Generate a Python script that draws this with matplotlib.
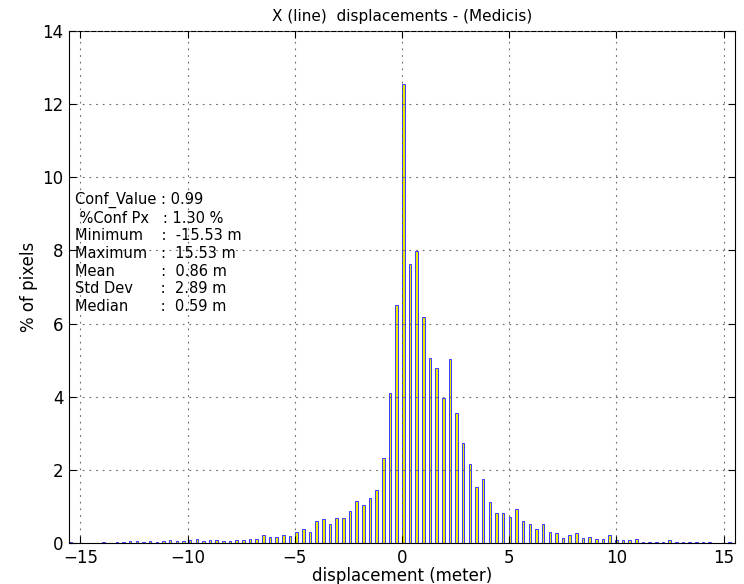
import numpy as np
import matplotlib
matplotlib.use("Agg")
import matplotlib.pyplot as plt

# Histogram of X (line) displacements: 100 bins spanning min..max
d_min, d_max = -15.53, 15.53
n_bins = 100

# Percentage of pixels per bin (bin 0 .. bin 99)
pct_left_tail = [0.02, 0.0, 0.0, 0.0, 0.0, 0.02, 0.0, 0.02, 0.04, 0.05,
                 0.05, 0.02, 0.05, 0.03, 0.05, 0.07, 0.05, 0.05, 0.07, 0.10,
                 0.05, 0.07, 0.08, 0.05, 0.05, 0.08, 0.08, 0.10, 0.10, 0.22,
                 0.16, 0.16, 0.22, 0.19, 0.31, 0.37, 0.31, 0.61, 0.66, 0.52]
pct_core = [0.69, 0.69, 0.87, 1.15, 1.04, 1.24, 1.45, 2.33, 4.11, 6.50,
            12.55, 7.64, 7.98, 6.18, 5.05, 4.79, 3.96, 5.02, 3.55, 2.73,
            2.15, 1.54, 1.74, 1.13, 0.81, 0.81, 0.72, 0.93, 0.61, 0.52]
pct_right_tail = [0.37, 0.52, 0.31, 0.28, 0.14, 0.23, 0.28, 0.14, 0.17, 0.11,
                  0.11, 0.23, 0.07, 0.08, 0.08, 0.11, 0.04, 0.04, 0.04, 0.04,
                  0.08, 0.04, 0.03, 0.04, 0.03, 0.03, 0.03, 0.0, 0.0, 0.02]
percent = np.array(pct_left_tail + pct_core + pct_right_tail)

stats_lines = ["Conf_Value : 0.99",
               " %Conf Px   : 1.30 %",
               "Minimum    :  -15.53 m",
               "Maximum   :  15.53 m",
               "Mean          :  0.86 m",
               "Std Dev      :  2.89 m",
               "Median       :  0.59 m"]

x_ticks = [-15, -10, -5, 0, 5, 10, 15]
y_ticks = [0, 2, 4, 6, 8, 10, 12, 14]

edges = np.linspace(d_min, d_max, n_bins + 1)[:-1]

fig = plt.figure(figsize=(7.44, 5.84), dpi=100)
ax = fig.add_axes([0.0927, 0.0702, 0.8952, 0.8767])

ax.bar(edges, percent, width=0.12, align="edge",
       facecolor="#e8e800", edgecolor="#3a3aff", linewidth=0.7)

ax.set_xlim(d_min, d_max)
ax.set_ylim(0, 14)
ax.set_xticks(x_ticks)
ax.set_xticklabels([f"{t}".replace("-", "\u2212") for t in x_ticks])
ax.set_yticks(y_ticks)
ax.tick_params(direction="in", top=True, right=True, labelsize=12, length=5, pad=4)
ax.grid(True, linestyle=(0, (1.5, 4.5)), color="0.4", linewidth=0.8)
ax.set_axisbelow(False)

ax.set_title("X (line)  displacements - (Medicis)", fontsize=11, pad=7)
ax.set_xlabel("displacement (meter)", fontsize=12, labelpad=0)
ax.set_ylabel("% of pixels", fontsize=12, labelpad=3)

ax.text(0.009, 0.686, "\n".join(stats_lines), transform=ax.transAxes,
        fontsize=10.5, va="top", ha="left", linespacing=1.22)

fig.savefig("out.png", dpi=100)
